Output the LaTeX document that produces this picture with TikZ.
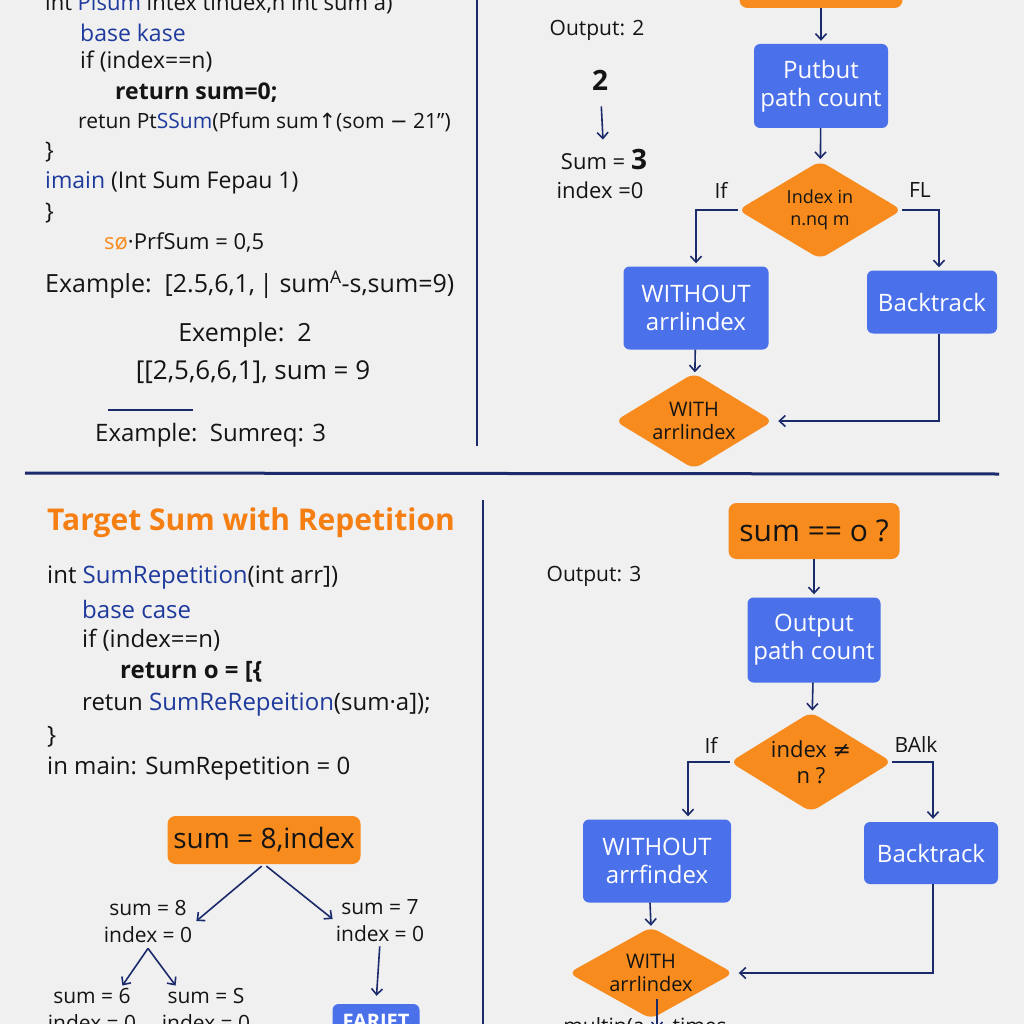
\documentclass[tikz,border=0pt]{standalone}
\usepackage{fontspec}
\setmainfont{Open Sans}
\newfontfamily\dvs{DejaVu Sans}
\usetikzlibrary{arrows.meta,shapes.geometric}
\definecolor{bg}{HTML}{F0F0F0}
\definecolor{navy}{HTML}{1B2A6B}
\definecolor{bboxc}{HTML}{4A70EA}
\definecolor{oboxc}{HTML}{F78B1E}
\definecolor{codeblue}{HTML}{1E3A9C}
\definecolor{ttl}{HTML}{F57F12}
\definecolor{ink}{HTML}{141414}
\newcommand{\fs}[2]{\fontsize{#1}{#2}\selectfont}
\begin{document}
\begin{tikzpicture}[x=1pt,y=-1pt,
  conn/.style={draw=navy,line width=1.6pt,-{Straight Barb[length=6pt,width=11pt]}},
  divider/.style={draw=navy,line width=2pt},
  code/.style={anchor=west,inner sep=0pt,text=ink,font=\fs{23}{27}},
  code2/.style={anchor=west,inner sep=0pt,text=ink,font=\fs{24}{28}},
  big/.style={inner sep=0pt,text=ink,font=\fs{25}{30}},
  lbl/.style={inner sep=0pt,text=ink,font=\fs{21}{27},align=center},
  bbx/.style={fill=bboxc,rounded corners=6pt,text=white,align=center,inner sep=0pt,font=\fs{24}{28}},
  obx/.style={fill=oboxc,rounded corners=8pt,text=ink,align=center,inner sep=0pt,font=\fs{28}{32}},
  dia/.style={diamond,fill=oboxc,rounded corners=8pt,inner sep=0pt},
  dtext/.style={inner sep=0pt,text=ink,align=center,font=\fs{20}{23}}]
\useasboundingbox (0,0) rectangle (1024,1024);
\clip (0,0) rectangle (1024,1024);
\fill[bg] (0,0) rectangle (1024,1024);

% dividers
\draw[divider] (477,0) -- (477,446);
\draw[navy,line width=3pt] (25,473) -- (999,474);
\draw[divider] (483,500) -- (483,1024);
\draw[divider] (108,410) -- (193,410);

% ---------- top-left code ----------
\node[code,font=\fs{22}{26}] (c1) at (45,4) {int {\color{codeblue}Pisum} intex tinuex,n int sum a)};
\node[code] (c2) at (80,33) {\color{codeblue}base kase};
\node[code] (c3) at (80,62) {if (index==n)};
\node[code,font=\fs{23}{27}\bfseries] (c4) at (115,93) {return sum=0;};
\node[code,font=\fs{21}{25}] (c5) at (78,122) {retun Pt{\color{codeblue}SSum}(Pfum sum{\dvs ↑}(som {\dvs −} 21”)};
\node[code] (c6) at (45,152) {\}};
\node[code] (c7) at (45,183) {{\color{codeblue}imain} (Int Sum Fepau 1)};
\node[code] (c8) at (45,213) {\}};
\node[code,font=\fs{22}{26}] (c9) at (104,243) {{\color{oboxc}sø}·PrfSum = 0,5};
\node[big,anchor=west] (e1) at (45,285) {Example:\ \ [2.5,6,1,\,| sum\textsuperscript{A}-s,sum=9)};
\node[big] (e2) at (245,335) {Exemple:\ \ 2};
\node[big,font=\fs{26}{30}] (e3) at (253,372) {[[2,5,6,6,1], sum = 9};
\node[big,anchor=west,font=\fs{24}{28}] (e4) at (95,435) {Example:\ \ Sumreq: 3};

% ---------- top-right ----------
\node[lbl] (o2) at (597,30) {Output: 2};
\node[lbl,font=\fs{28}{30}\bfseries] (two) at (600,80) {2};
\node[lbl,font=\fs{22}{26}] (s3) at (604,160) {Sum = {\fs{28}{30}\bfseries 3}};
\node[lbl,font=\fs{22}{26}] (i0) at (600,190) {index =0};
\draw[conn,shorten <=16pt,shorten >=10pt] (two) -- (s3);

\node[obx,minimum width=163,minimum height=50] (ot) at (821,-17) {};
\node[bbx,minimum width=134,minimum height=84] (pb) at (821,86) {Putbut\\path count};
\node[dia,minimum width=164,minimum height=98] (d1) at (820,210) {};
\node[dtext,font=\fs{18}{22}] (d1t) at (d1.center) {Index in\\n.nq m};
\node[lbl] (if1) at (721,190) {If};
\node[lbl] (fl1) at (920,190) {FL};
\node[bbx,minimum width=145,minimum height=83] (w1) at (696,308) {WITHOUT\\arrlindex};
\node[bbx,minimum width=130,minimum height=63] (bt1) at (932,302) {Backtrack};
\node[dia,minimum width=158,minimum height=96] (wd1) at (694,421) {};
\node[dtext] (wd1t) at (wd1.center) {WITH\\arrlindex};

\draw[conn,shorten >=3pt] (ot) -- (pb);
\draw[conn,shorten >=2pt] (pb) -- (d1);
\draw[conn,shorten >=3pt] (d1.west) -| (w1.north);
\draw[conn,shorten >=3pt] (d1.east) -| ([xshift=7]bt1.north);
\draw[conn,shorten >=1pt] (w1) -- (wd1);
\draw[conn,shorten >=5pt] ([xshift=7]bt1.south) |- (wd1.east);

% ---------- bottom-left ----------
\node[anchor=west,inner sep=0pt,text=ttl,font=\fs{30}{34}\bfseries] (title) at (47,523) {Target Sum with Repetition};
\node[code2] (b1) at (47,578) {int {\color{codeblue}SumRepetition}(int arr])};
\node[code2] (b2) at (82,609) {\color{codeblue}base case};
\node[code2] (b3) at (82,640) {if (index==n)};
\node[code2,font=\fs{24}{28}\bfseries] (b4) at (120,672) {return o = [\{};
\node[code2] (b5) at (82,705) {retun {\color{codeblue}SumReRepeition}(sum·a]);};
\node[code2] (b6) at (47,737) {\}};
\node[code2] (b7) at (47,769) {in main: SumRepetition = 0};

\node[obx,minimum width=193,minimum height=48] (root) at (264,840) {sum = 8,index};
\node[lbl] (l1) at (148,921) {sum = 8\\index = 0};
\node[lbl] (r1) at (380,921) {sum = 7\\index = 0};
\node[lbl] (ll) at (92,1009) {sum = 6\\index = 0};
\node[lbl] (lr) at (206,1009) {sum = S\\index = 0};
\node[bbx,minimum width=87,minimum height=34,font=\fs{20}{24}\bfseries] (fariet) at (376,1021) {FARIET};

\draw[conn,shorten <=3pt] (root.south) -- ([xshift=4]l1.east);
\draw[conn,shorten <=3pt] (root.south) -- ([xshift=-3,yshift=2]r1.west);
\draw[conn] ([yshift=-6]l1.south) -- ([xshift=-14,yshift=2]ll.north east);
\draw[conn] ([yshift=-6]l1.south) -- ([xshift=14,yshift=2]lr.north west);
\draw[conn,shorten <=4pt,shorten >=8pt] (r1.south) -- (fariet.north);

% ---------- bottom-right ----------
\node[lbl] (o3) at (594,576) {Output: 3};
\node[obx,minimum width=171,minimum height=56,font=\fs{30}{34}] (sq) at (814,531) {sum == o ?};
\node[bbx,minimum width=133,minimum height=85] (op) at (814,640) {Output\\path count};
\node[dia,minimum width=162,minimum height=100] (d2) at (811,762) {};
\node[dtext,font=\fs{22}{26}] (d2t) at (d2.center) {index {\dvs ≠}\\n ?};
\node[lbl] (if2) at (711,745) {If};
\node[lbl] (bk2) at (916,745) {BAlk};
\node[bbx,minimum width=148,minimum height=83] (w2) at (657,861) {WITHOUT\\arrfindex};
\node[bbx,minimum width=134,minimum height=62] (bt2) at (931,853) {Backtrack};
\node[dia,minimum width=165,minimum height=92] (wd2) at (651,973) {};
\node[dtext] (wd2t) at (wd2.center) {WITH\\arrlindex};
\node[lbl] (mt) at (645,1027) {multin(a\hspace{28pt}times};

\draw[conn,shorten >=3pt] (sq) -- (op);
\draw[conn,shorten >=2pt] (op) -- (d2);
\draw[conn,shorten >=3pt] (d2.west) -| ([xshift=31]w2.north);
\draw[conn,shorten >=3pt] (d2.east) -| ([xshift=2]bt2.north);
\draw[conn,shorten >=1pt] ([xshift=-7]w2.south) -- (wd2.north);
\draw[conn,shorten >=5pt] ([xshift=2]bt2.south) |- (wd2.east);
\draw[conn] ([xshift=6,yshift=20]wd2.south) -- ([xshift=6,yshift=-10]wd2.south);
\end{tikzpicture}
\end{document}
